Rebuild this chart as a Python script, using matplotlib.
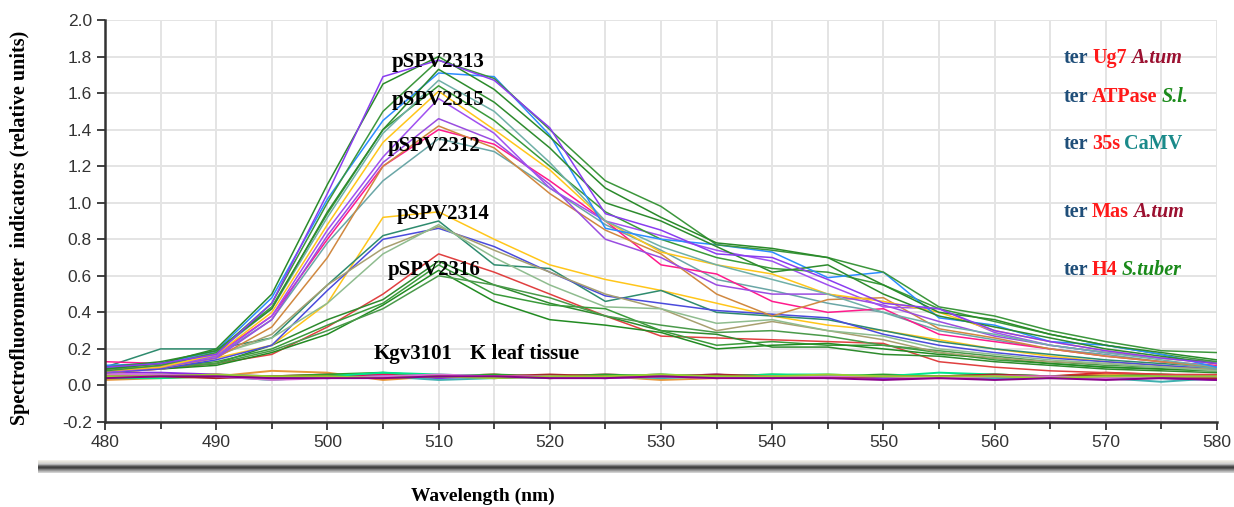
import numpy as np
import matplotlib
matplotlib.use("Agg")
import matplotlib.pyplot as plt
from matplotlib.ticker import MultipleLocator

# wavelengths (nm), one reading every 5 nm
wavelength = [480, 485, 490, 495, 500, 505, 510, 515, 520, 525, 530,
              535, 540, 545, 550, 555, 560, 565, 570, 575, 580]

# pSPV2313 / pSPV2315 / pSPV2312 (high emission)
p13_purple = [0.10, 0.12, 0.17, 0.45, 1.05, 1.69, 1.78, 1.67, 1.41, 0.94, 0.85, 0.72, 0.70, 0.58, 0.45, 0.42, 0.30, 0.24, 0.19, 0.15, 0.12]
p13_green1 = [0.09, 0.12, 0.20, 0.50, 1.10, 1.65, 1.80, 1.62, 1.36, 1.08, 0.92, 0.78, 0.75, 0.70, 0.55, 0.40, 0.36, 0.28, 0.22, 0.18, 0.14]
p13_green2 = [0.08, 0.11, 0.18, 0.45, 1.00, 1.50, 1.78, 1.68, 1.40, 1.12, 0.98, 0.77, 0.74, 0.70, 0.62, 0.43, 0.38, 0.30, 0.24, 0.19, 0.18]
p13_green3 = [0.10, 0.13, 0.19, 0.42, 0.95, 1.40, 1.73, 1.55, 1.30, 1.00, 0.90, 0.76, 0.62, 0.66, 0.50, 0.38, 0.32, 0.26, 0.20, 0.16, 0.12]
p15_blue = [0.11, 0.12, 0.19, 0.48, 1.02, 1.45, 1.71, 1.69, 1.37, 0.86, 0.80, 0.77, 0.73, 0.59, 0.62, 0.37, 0.33, 0.24, 0.22, 0.17, 0.10]
p15_teal = [0.10, 0.12, 0.18, 0.42, 0.92, 1.38, 1.67, 1.50, 1.22, 0.90, 0.76, 0.66, 0.58, 0.50, 0.40, 0.33, 0.28, 0.22, 0.18, 0.14, 0.10]
p15_green = [0.09, 0.12, 0.19, 0.43, 0.94, 1.40, 1.64, 1.45, 1.20, 0.95, 0.80, 0.70, 0.64, 0.62, 0.55, 0.42, 0.35, 0.28, 0.22, 0.17, 0.13]
p15_yellow = [0.08, 0.10, 0.17, 0.40, 0.88, 1.33, 1.61, 1.40, 1.18, 0.90, 0.73, 0.66, 0.61, 0.50, 0.46, 0.40, 0.30, 0.24, 0.19, 0.15, 0.12]
p15_purple = [0.08, 0.10, 0.16, 0.38, 0.85, 1.25, 1.57, 1.38, 1.08, 0.90, 0.82, 0.74, 0.68, 0.55, 0.43, 0.42, 0.29, 0.22, 0.18, 0.15, 0.13]
p12_purple = [0.07, 0.10, 0.15, 0.36, 0.82, 1.22, 1.46, 1.34, 1.10, 0.80, 0.70, 0.55, 0.50, 0.50, 0.44, 0.35, 0.27, 0.22, 0.18, 0.15, 0.12]
p12_orange = [0.08, 0.10, 0.15, 0.32, 0.70, 1.20, 1.42, 1.30, 1.05, 0.85, 0.72, 0.50, 0.38, 0.47, 0.48, 0.31, 0.26, 0.20, 0.16, 0.13, 0.10]
p12_pink = [0.13, 0.12, 0.17, 0.38, 0.80, 1.20, 1.40, 1.32, 1.12, 0.90, 0.66, 0.61, 0.46, 0.40, 0.42, 0.28, 0.24, 0.20, 0.16, 0.13, 0.11]
p12_teal = [0.10, 0.12, 0.16, 0.36, 0.78, 1.12, 1.35, 1.28, 1.08, 0.88, 0.74, 0.58, 0.52, 0.45, 0.40, 0.30, 0.25, 0.20, 0.17, 0.13, 0.09]

# pSPV2314 (medium)
p14_yellow = [0.07, 0.09, 0.15, 0.22, 0.45, 0.92, 0.95, 0.80, 0.66, 0.58, 0.52, 0.45, 0.38, 0.33, 0.30, 0.25, 0.20, 0.16, 0.13, 0.11, 0.09]
p14_seagreen = [0.10, 0.20, 0.20, 0.26, 0.55, 0.82, 0.90, 0.66, 0.64, 0.46, 0.52, 0.40, 0.38, 0.36, 0.30, 0.24, 0.20, 0.17, 0.14, 0.12, 0.10]
p14_slateblue = [0.07, 0.09, 0.14, 0.22, 0.52, 0.80, 0.86, 0.76, 0.62, 0.49, 0.45, 0.41, 0.39, 0.37, 0.28, 0.22, 0.18, 0.15, 0.13, 0.11, 0.09]
p14_khaki = [0.08, 0.11, 0.16, 0.28, 0.55, 0.75, 0.87, 0.74, 0.62, 0.50, 0.42, 0.30, 0.35, 0.30, 0.25, 0.18, 0.15, 0.13, 0.12, 0.10, 0.09]
p14_lightgreen = [0.09, 0.12, 0.17, 0.26, 0.45, 0.72, 0.88, 0.70, 0.55, 0.43, 0.42, 0.34, 0.36, 0.30, 0.27, 0.20, 0.17, 0.14, 0.12, 0.10, 0.08]

# pSPV2316 (low)
p16_red = [0.07, 0.09, 0.12, 0.17, 0.32, 0.50, 0.72, 0.62, 0.50, 0.38, 0.27, 0.26, 0.25, 0.24, 0.23, 0.13, 0.10, 0.08, 0.07, 0.06, 0.06]
p16_green1 = [0.08, 0.10, 0.12, 0.22, 0.36, 0.47, 0.68, 0.55, 0.45, 0.38, 0.30, 0.28, 0.21, 0.21, 0.17, 0.16, 0.13, 0.11, 0.09, 0.08, 0.07]
p16_green2 = [0.09, 0.10, 0.13, 0.20, 0.33, 0.45, 0.66, 0.50, 0.44, 0.42, 0.30, 0.22, 0.24, 0.22, 0.22, 0.18, 0.14, 0.12, 0.10, 0.09, 0.08]
p16_green3 = [0.08, 0.09, 0.11, 0.18, 0.28, 0.44, 0.63, 0.46, 0.36, 0.33, 0.29, 0.20, 0.22, 0.23, 0.20, 0.17, 0.15, 0.12, 0.10, 0.09, 0.08]
p16_green4 = [0.09, 0.10, 0.12, 0.19, 0.30, 0.42, 0.60, 0.55, 0.48, 0.38, 0.33, 0.29, 0.30, 0.27, 0.22, 0.19, 0.16, 0.13, 0.11, 0.10, 0.09]

# Kgv3101 / K leaf tissue (background)
bl_orange = [0.03, 0.04, 0.05, 0.08, 0.07, 0.03, 0.05, 0.05, 0.04, 0.05, 0.03, 0.04, 0.05, 0.05, 0.04, 0.05, 0.04, 0.05, 0.06, 0.05, 0.04]
bl_red = [0.04, 0.05, 0.05, 0.05, 0.06, 0.05, 0.05, 0.06, 0.04, 0.05, 0.06, 0.04, 0.05, 0.05, 0.04, 0.04, 0.04, 0.05, 0.07, 0.06, 0.05]
bl_magenta = [0.06, 0.05, 0.06, 0.04, 0.05, 0.06, 0.05, 0.04, 0.05, 0.06, 0.05, 0.05, 0.04, 0.05, 0.05, 0.04, 0.05, 0.04, 0.04, 0.05, 0.04]
bl_purple = [0.07, 0.07, 0.06, 0.05, 0.04, 0.05, 0.04, 0.05, 0.05, 0.04, 0.05, 0.06, 0.04, 0.05, 0.04, 0.05, 0.04, 0.05, 0.04, 0.04, 0.03]
bl_green = [0.05, 0.06, 0.05, 0.05, 0.06, 0.07, 0.05, 0.06, 0.05, 0.06, 0.05, 0.05, 0.06, 0.05, 0.06, 0.05, 0.06, 0.05, 0.05, 0.06, 0.05]
bl_spring = [0.04, 0.04, 0.05, 0.03, 0.05, 0.07, 0.06, 0.05, 0.04, 0.05, 0.06, 0.05, 0.06, 0.06, 0.05, 0.07, 0.06, 0.05, 0.04, 0.05, 0.05]
bl_teal = [0.06, 0.05, 0.05, 0.05, 0.04, 0.05, 0.03, 0.04, 0.05, 0.05, 0.04, 0.05, 0.05, 0.04, 0.05, 0.05, 0.04, 0.04, 0.04, 0.02, 0.04]
bl_darkred = [0.05, 0.05, 0.04, 0.05, 0.05, 0.04, 0.05, 0.05, 0.06, 0.05, 0.05, 0.06, 0.05, 0.04, 0.05, 0.05, 0.06, 0.05, 0.05, 0.04, 0.04]
bl_violet = [0.06, 0.06, 0.05, 0.03, 0.04, 0.05, 0.06, 0.05, 0.05, 0.04, 0.05, 0.04, 0.05, 0.05, 0.05, 0.04, 0.05, 0.05, 0.04, 0.05, 0.05]
bl_lime = [0.05, 0.05, 0.06, 0.05, 0.05, 0.04, 0.05, 0.04, 0.05, 0.05, 0.06, 0.05, 0.05, 0.06, 0.05, 0.05, 0.05, 0.04, 0.05, 0.05, 0.05]
bl_dkmag = [0.04, 0.05, 0.05, 0.04, 0.04, 0.04, 0.05, 0.05, 0.04, 0.04, 0.05, 0.04, 0.04, 0.04, 0.03, 0.04, 0.03, 0.04, 0.03, 0.04, 0.03]

# background curves + colours
background = [
    (bl_orange, "#e8973a"), (bl_red, "#d62728"), (bl_magenta, "#e0115f"),
    (bl_purple, "#8a2be2"), (bl_green, "#2ca02c"), (bl_spring, "#00e68a"),
    (bl_teal, "#40b0b0"), (bl_darkred, "#a52a2a"), (bl_violet, "#da70d6"),
    (bl_lime, "#9acd32"), (bl_dkmag, "#8b008b"),
]
# construct curves + colours
curves = [
    (p16_red, "#e04040"), (p16_green1, "#2e8b2e"), (p16_green2, "#3a9a3a"),
    (p16_green3, "#228b22"), (p16_green4, "#4a9a4a"),
    (p14_yellow, "#ffc61a"), (p14_seagreen, "#2e8b6e"), (p14_slateblue, "#4b4bdc"),
    (p14_khaki, "#a8a070"), (p14_lightgreen, "#8fbc8f"),
    (p12_teal, "#6aa6a6"), (p12_pink, "#ff1a8c"), (p12_orange, "#d08840"),
    (p12_purple, "#9a4de0"), (p15_purple, "#a050f0"), (p15_yellow, "#ffc61a"),
    (p15_green, "#3a9a3a"), (p15_teal, "#70b0a8"), (p15_blue, "#2b8cff"),
    (p13_green3, "#2e8b2e"), (p13_green2, "#3c963c"), (p13_green1, "#2a8a2a"),
    (p13_purple, "#8a3cf0"),
]

fig = plt.figure(figsize=(12.34, 5.07), dpi=100)
ax = fig.add_axes([105 / 1234, 1 - 422 / 507, (1217 - 105) / 1234, (422 - 20) / 507])

for values, color in background:
    ax.plot(wavelength, values, color=color, linewidth=1.4)
for values, color in curves:
    ax.plot(wavelength, values, color=color, linewidth=1.1)

ax.set_xlim(480, 580)
ax.set_ylim(-0.2, 2.0)
ax.xaxis.set_major_locator(MultipleLocator(10))
ax.xaxis.set_minor_locator(MultipleLocator(5))
ax.yaxis.set_major_locator(MultipleLocator(0.2))
ax.grid(which="both", color="#e4e4e4", linewidth=1.4)
ax.set_axisbelow(True)
ax.yaxis.set_major_formatter(matplotlib.ticker.FormatStrFormatter("%.1f"))

for side in ["top", "right"]:
    ax.spines[side].set_visible(False)
for side in ["left", "bottom"]:
    ax.spines[side].set_color("#333333")
    ax.spines[side].set_linewidth(1.8)
ax.tick_params(which="major", length=6, width=1.3, color="#333333",
               labelsize=12.5, labelcolor="#333333")
ax.tick_params(which="minor", length=5, width=1.3, color="#333333")
for lab in ax.get_xticklabels() + ax.get_yticklabels():
    lab.set_family("Liberation Sans")

serif = "Liberation Serif"
fig.text(20 / 1234, 1 - 228 / 507, "Spectrofluorometer  indicators (relative units)",
         rotation=90, ha="center", va="center", family=serif,
         fontweight="bold", fontsize=14.5)
fig.text(483 / 1234, 1 - 496 / 507, "Wavelength (nm)", ha="center", va="center",
         family=serif, fontweight="bold", fontsize=14)

# the grey bar under the tick labels
bar_ax = fig.add_axes([38 / 1234, 1 - 473 / 507, 1 - 38 / 1234, 13 / 507])
shades = ["#f0eee8", "#e6e4dc", "#dcdad4", "#cfcfcf", "#b0b0b0", "#7a7a7a",
          "#505050", "#404040", "#555555", "#7c7c7c", "#9a9a9a", "#b8b8b8",
          "#d0d0d0"]
rgb = np.array([matplotlib.colors.to_rgb(c) for c in shades])[:, None, :]
bar_ax.imshow(rgb, aspect="auto", interpolation="nearest")
bar_ax.axis("off")

# curve labels
label_kw = dict(family=serif, fontweight="bold", fontsize=15, color="black",
                va="center", ha="left")
ax.text(505.8, 1.77, "pSPV2313", **label_kw)
ax.text(505.8, 1.56, "pSPV2315", **label_kw)
ax.text(505.4, 1.31, "pSPV2312", **label_kw)
ax.text(506.2, 0.94, "pSPV2314", **label_kw)
ax.text(505.4, 0.63, "pSPV2316", **label_kw)
ax.text(504.2, 0.17, "Kgv3101", **label_kw)
ax.text(512.8, 0.17, "K leaf tissue", **label_kw)

# terminator labels on the right, coloured piece by piece
terminators = [
    (1.79, [("ter", "#1f4e79", "normal"), ("Ug7", "#ff1a1a", "normal"), ("A.tum", "#9b1030", "italic")]),
    (1.58, [("ter", "#1f4e79", "normal"), ("ATPase", "#ff1a1a", "normal"), ("S.l.", "#1a8a1a", "italic")]),
    (1.32, [("ter", "#1f4e79", "normal"), ("35s", "#ff1a1a", "normal"), ("CaMV", "#1a8a8a", "normal")]),
    (0.95, [("ter", "#1f4e79", "normal"), ("Mas", "#ff1a1a", "normal"), ("A.tum", "#9b1030", "italic")]),
    (0.63, [("ter", "#1f4e79", "normal"), ("H4", "#ff1a1a", "normal"), ("S.tuber", "#1a8a1a", "italic")]),
]
renderer = fig.canvas.get_renderer()
for y, pieces in terminators:
    offset = 0
    for txt, color, style in pieces:
        t = ax.annotate(txt, (566.2, y), xytext=(offset, 0), textcoords="offset pixels",
                        family=serif, fontweight="bold", fontsize=14.5, color=color,
                        fontstyle=style, va="center", ha="left")
        offset += t.get_window_extent(renderer).width + 4

fig.savefig("out.png", dpi=100)
